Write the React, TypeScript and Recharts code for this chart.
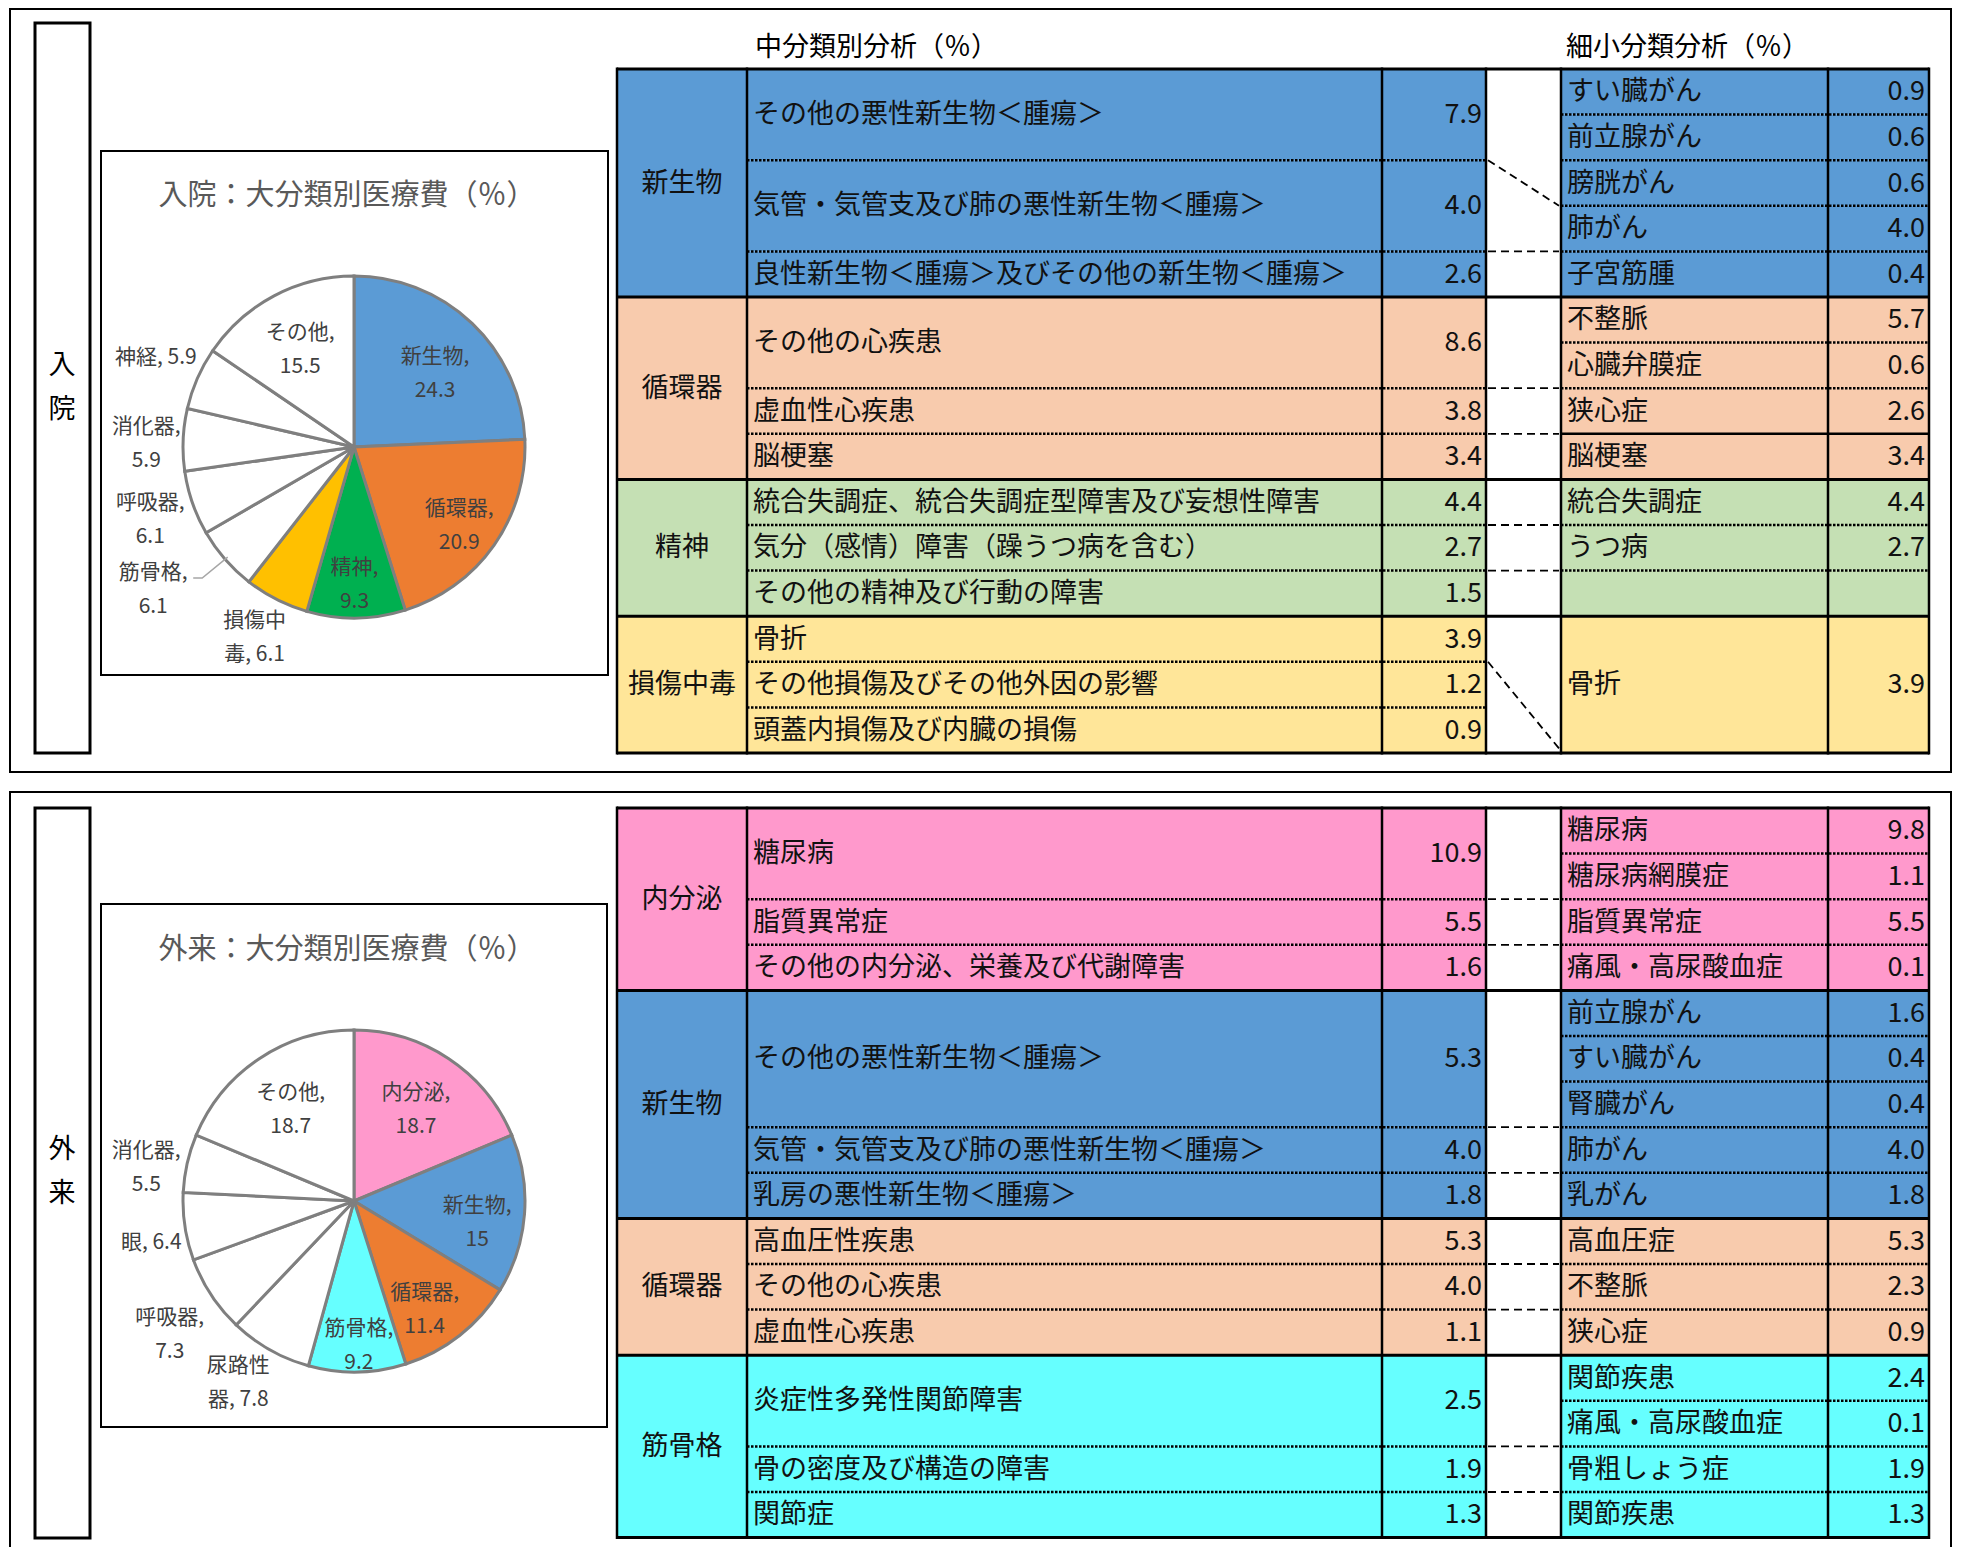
import { PieChart, Pie, Cell } from 'recharts';

const FONT = "'Noto Sans CJK JP', 'Noto Sans', sans-serif";

// 入院：大分類別医療費（%）
const inpatientCategories = ['新生物', '循環器', '精神', '損傷中毒', '筋骨格', '呼吸器', '消化器', '神経', 'その他'];
const inpatientShares = [24.3, 20.9, 9.3, 6.1, 6.1, 6.1, 5.9, 5.9, 15.5];

// 外来：大分類別医療費（%）
const outpatientCategories = ['内分泌', '新生物', '循環器', '筋骨格', '尿路性器', '呼吸器', '眼', '消化器', 'その他'];
const outpatientShares = [18.7, 15, 11.4, 9.2, 7.8, 7.3, 6.4, 5.5, 18.7];

// 入院 tables
const inGroups = ['新生物', '循環器', '精神', '損傷中毒'];
const inMidNames = [
  'その他の悪性新生物＜腫瘍＞',
  '気管・気管支及び肺の悪性新生物＜腫瘍＞',
  '良性新生物＜腫瘍＞及びその他の新生物＜腫瘍＞',
  'その他の心疾患',
  '虚血性心疾患',
  '脳梗塞',
  '統合失調症、統合失調症型障害及び妄想性障害',
  '気分（感情）障害（躁うつ病を含む）',
  'その他の精神及び行動の障害',
  '骨折',
  'その他損傷及びその他外因の影響',
  '頭蓋内損傷及び内臓の損傷',
];
const inMidValues = [7.9, 4.0, 2.6, 8.6, 3.8, 3.4, 4.4, 2.7, 1.5, 3.9, 1.2, 0.9];
const inSubNames = ['すい臓がん', '前立腺がん', '膀胱がん', '肺がん', '子宮筋腫', '不整脈', '心臓弁膜症', '狭心症', '脳梗塞', '統合失調症', 'うつ病', '', '骨折'];
const inSubValues = [0.9, 0.6, 0.6, 4.0, 0.4, 5.7, 0.6, 2.6, 3.4, 4.4, 2.7, null, 3.9];

// 外来 tables
const outGroups = ['内分泌', '新生物', '循環器', '筋骨格'];
const outMidNames = [
  '糖尿病',
  '脂質異常症',
  'その他の内分泌、栄養及び代謝障害',
  'その他の悪性新生物＜腫瘍＞',
  '気管・気管支及び肺の悪性新生物＜腫瘍＞',
  '乳房の悪性新生物＜腫瘍＞',
  '高血圧性疾患',
  'その他の心疾患',
  '虚血性心疾患',
  '炎症性多発性関節障害',
  '骨の密度及び構造の障害',
  '関節症',
];
const outMidValues = [10.9, 5.5, 1.6, 5.3, 4.0, 1.8, 5.3, 4.0, 1.1, 2.5, 1.9, 1.3];
const outSubNames = [
  '糖尿病', '糖尿病網膜症', '脂質異常症', '痛風・高尿酸血症',
  '前立腺がん', 'すい臓がん', '腎臓がん', '肺がん', '乳がん',
  '高血圧症', '不整脈', '狭心症',
  '関節疾患', '痛風・高尿酸血症', '骨粗しょう症', '関節疾患',
];
const outSubValues = [9.8, 1.1, 5.5, 0.1, 1.6, 0.4, 0.4, 4.0, 1.8, 5.3, 2.3, 0.9, 2.4, 0.1, 1.9, 1.3];

// row layout (in table row units)
const inGroupRows = [5, 4, 3, 3];
const inMidRows = [2, 2, 1, 2, 1, 1, 1, 1, 1, 1, 1, 1];
const inSubRows = [1, 1, 1, 1, 1, 1, 1, 1, 1, 1, 1, 1, 3];
const inLinks = [4, 7, 8, 10, 11];
const inSlants: [number, number][] = [[2, 3], [13, 14.9]];
const inSubSolid = [8];

const outGroupRows = [4, 5, 3, 4];
const outMidRows = [2, 1, 1, 3, 1, 1, 1, 1, 1, 2, 1, 1];
const outSubRows = outSubNames.map(() => 1);
const outLinks = [2, 3, 7, 8, 10, 11, 14, 15];

const GROUP_COLORS: Record<string, string> = {
  新生物: '#5B9BD5',
  循環器: '#F8CBAD',
  精神: '#C5E0B4',
  損傷中毒: '#FFE699',
  内分泌: '#FF99CC',
  筋骨格: '#66FFFF',
};
const inSliceColors = ['#5B9BD5', '#ED7D31', '#00B050', '#FFC000', '#FFFFFF', '#FFFFFF', '#FFFFFF', '#FFFFFF', '#FFFFFF'];
const outSliceColors = ['#FF99CC', '#5B9BD5', '#ED7D31', '#66FFFF', '#FFFFFF', '#FFFFFF', '#FFFFFF', '#FFFFFF', '#FFFFFF'];

// label placement: distance (fraction of radius) and clockwise shift (deg) from slice middle
const inLabelRadius = [0.646, 0.764, 0.798, 1.247, 1.435, 1.261, 1.215, 1.275, 0.657];
const inLabelShift = [3.5, 1.4, 0.5, 0.8, 6, 0, -1, 1, -0.7];
const outLabelRadius = [0.654, 0.73, 0.751, 0.838, 1.251, 1.325, 1.208, 1.232, 0.658];
const outLabelShift = [0, 5, 4.8, -0.9, 3.2, -2.3, -2.4, -3.2, -0.6];
const SINGLE_LINE = ['神経', '眼'];

const ROW_H = 45.6;
const C = { g: 617, n: 747, v: 1382, gap: 1486, s: 1561, sv: 1828, r: 1929 };
const RAD = Math.PI / 180;
const TEXT_DY = -3;

function cumulative(arr: number[]) {
  const out = [0];
  arr.forEach((v) => out.push(out[out.length - 1] + v));
  return out;
}

function labelLines(name: string, value: number) {
  if (SINGLE_LINE.includes(name)) return [`${name}, ${value}`];
  if (name.length >= 4) return [name.slice(0, 3), `${name.slice(3)}, ${value}`];
  return [`${name},`, `${value}`];
}

function makeLabel(radii: number[], shifts: number[], leaderIdx: number) {
  return (p: any) => {
    const { cx, cy, midAngle, outerRadius, index, name, value } = p;
    const r = outerRadius * radii[index];
    const a = midAngle - shifts[index];
    const x = cx + r * Math.cos(-a * RAD);
    const y = cy + r * Math.sin(-a * RAD);
    const lines = labelLines(name, value);
    const gap = 34;
    const y0 = y - ((lines.length - 1) * gap) / 2;
    let leader = null;
    if (index === leaderIdx) {
      const ex = cx + outerRadius * 0.98 * Math.cos(-midAngle * RAD);
      const ey = cy + outerRadius * 0.98 * Math.sin(-midAngle * RAD);
      leader = (
        <polyline
          points={`${x + 40},${y - 10} ${x + 49},${y - 10} ${ex},${ey}`}
          fill="none"
          stroke="#A6A6A6"
          strokeWidth={1.5}
        />
      );
    }
    return (
      <g key={`lbl-${index}`}>
        {leader}
        {lines.map((l, i) => (
          <text
            key={i}
            x={x}
            y={y0 + i * gap - 1}
            textAnchor="middle"
            dominantBaseline="central"
            fill="#404040"
            fontSize={21}
            fontFamily={FONT}
          >
            {l}
          </text>
        ))}
      </g>
    );
  };
}

interface TableProps {
  top: number;
  groups: string[];
  groupRows: number[];
  midNames: string[];
  midValues: number[];
  midRows: number[];
  subNames: string[];
  subValues: (number | null)[];
  subRows: number[];
  links: number[];
  slants: [number, number][];
  subSolid: number[];
}

function TableBlock(props: TableProps) {
  const { top, groups, groupRows, midNames, midValues, midRows, subNames, subValues, subRows, links, slants, subSolid } = props;
  const y = (u: number) => top + u * ROW_H;
  const gCum = cumulative(groupRows);
  const mCum = cumulative(midRows);
  const sCum = cumulative(subRows);
  const total = gCum[gCum.length - 1];
  const colorAt = (u: number) => {
    const i = groups.findIndex((_, k) => u >= gCum[k] && u < gCum[k + 1]);
    return GROUP_COLORS[groups[i]];
  };
  const isEdge = (u: number) => gCum.includes(u);
  const txt = { fontSize: 27, fill: '#111', dominantBaseline: 'central' as const, fontFamily: FONT };
  const dotted = { stroke: '#000', strokeWidth: 2.5, strokeDasharray: '2.5 1.5' };
  const mid = (a: number, b: number) => (y(a) + y(b)) / 2 + TEXT_DY;

  return (
    <g>
      {groups.map((g, i) => (
        <rect key={`gf${i}`} x={C.g} y={y(gCum[i])} width={C.n - C.g} height={groupRows[i] * ROW_H} fill={GROUP_COLORS[g]} />
      ))}
      {midNames.map((_, i) => (
        <rect key={`mf${i}`} x={C.n} y={y(mCum[i])} width={C.gap - C.n} height={midRows[i] * ROW_H} fill={colorAt(mCum[i])} />
      ))}
      {subNames.map((_, i) => (
        <rect key={`sf${i}`} x={C.s} y={y(sCum[i])} width={C.r - C.s} height={subRows[i] * ROW_H} fill={colorAt(sCum[i])} />
      ))}

      {mCum.slice(1, -1).filter((u) => !isEdge(u)).map((u) => (
        <line key={`md${u}`} x1={C.n} x2={C.gap} y1={y(u)} y2={y(u)} {...dotted} />
      ))}
      {sCum.slice(1, -1).filter((u) => !isEdge(u)).map((u) =>
        subSolid.includes(u) ? (
          <line key={`sd${u}`} x1={C.s} x2={C.r} y1={y(u)} y2={y(u)} stroke="#000" strokeWidth={2.5} />
        ) : (
          <line key={`sd${u}`} x1={C.s} x2={C.r} y1={y(u)} y2={y(u)} {...dotted} />
        )
      )}
      {gCum.map((u) => (
        <line key={`ge${u}`} x1={C.g} x2={C.r} y1={y(u)} y2={y(u)} stroke="#000" strokeWidth={3} />
      ))}
      {[C.g, C.n, C.v, C.gap, C.s, C.sv, C.r].map((x) => (
        <line key={`v${x}`} x1={x} x2={x} y1={y(0) - 1.5} y2={y(total) + 1.5} stroke="#000" strokeWidth={2.5} />
      ))}
      {links.map((u) => (
        <line key={`lk${u}`} x1={C.gap + 2} x2={C.s - 2} y1={y(u)} y2={y(u)} stroke="#000" strokeWidth={1.8} strokeDasharray="8 5" />
      ))}
      {slants.map(([a, b], i) => (
        <line key={`sl${i}`} x1={C.gap + 2} x2={C.s - 2} y1={y(a)} y2={y(b)} stroke="#000" strokeWidth={1.8} strokeDasharray="8 5" />
      ))}

      {groups.map((g, i) => (
        <text key={`gt${i}`} x={(C.g + C.n) / 2} y={mid(gCum[i], gCum[i + 1])} textAnchor="middle" {...txt}>
          {g}
        </text>
      ))}
      {midNames.map((n, i) => {
        const cy = mid(mCum[i], mCum[i + 1]);
        return (
          <g key={`mt${i}`}>
            <text x={C.n + 6} y={cy} textAnchor="start" {...txt}>{n}</text>
            <text x={C.gap - 4} y={cy} textAnchor="end" {...txt}>{midValues[i].toFixed(1)}</text>
          </g>
        );
      })}
      {subNames.map((n, i) => {
        const cy = mid(sCum[i], sCum[i + 1]);
        const v = subValues[i];
        return (
          <g key={`st${i}`}>
            <text x={C.s + 6} y={cy} textAnchor="start" {...txt}>{n}</text>
            {v !== null && (
              <text x={C.r - 4} y={cy} textAnchor="end" {...txt}>{v.toFixed(1)}</text>
            )}
          </g>
        );
      })}
    </g>
  );
}

function SharePie({ categories, shares, colors, radii, shifts, leaderIdx, cy }: any) {
  const data = categories.map((c: string, i: number) => ({ name: c, value: shares[i] }));
  return (
    <PieChart width={507} height={524} margin={{ top: 0, right: 0, bottom: 0, left: 0 }}>
      <Pie
        data={data}
        dataKey="value"
        nameKey="name"
        cx={253}
        cy={cy}
        outerRadius={171}
        startAngle={90}
        endAngle={-270}
        stroke="#7F7F7F"
        strokeWidth={3}
        isAnimationActive={false}
        labelLine={false}
        label={makeLabel(radii, shifts, leaderIdx)}
      >
        {data.map((_: any, i: number) => (
          <Cell key={`c${i}`} fill={colors[i]} stroke="#7F7F7F" strokeWidth={3} />
        ))}
      </Pie>
    </PieChart>
  );
}

export default function App() {
  return (
    <div style={{ position: 'absolute', left: 0, top: 0, width: 1961, height: 1547, overflow: 'hidden', background: '#fff', fontFamily: FONT }}>
      <svg width={1961} height={1547} style={{ position: 'absolute', left: 0, top: 0 }} fontFamily={FONT}>
        {/* panel frames */}
        <rect x={10} y={9} width={1941} height={763} fill="none" stroke="#000" strokeWidth={2} />
        <rect x={10} y={792} width={1941} height={780} fill="none" stroke="#000" strokeWidth={2} />
        <rect x={35} y={23} width={55} height={730} fill="none" stroke="#000" strokeWidth={3} />
        <rect x={35} y={808} width={55} height={730} fill="none" stroke="#000" strokeWidth={3} />
        <text x={62} y={362} textAnchor="middle" dominantBaseline="central" fontSize={27}>入</text>
        <text x={62} y={406} textAnchor="middle" dominantBaseline="central" fontSize={27}>院</text>
        <text x={62} y={1146} textAnchor="middle" dominantBaseline="central" fontSize={27}>外</text>
        <text x={62} y={1190} textAnchor="middle" dominantBaseline="central" fontSize={27}>来</text>

        {/* pie chart boxes */}
        <rect x={101} y={151} width={507} height={524} fill="none" stroke="#000" strokeWidth={2} />
        <rect x={101} y={904} width={506} height={523} fill="none" stroke="#000" strokeWidth={2} />
        <text x={347} y={192} textAnchor="middle" dominantBaseline="central" fontSize={29} fill="#595959">入院：大分類別医療費（％）</text>
        <text x={347} y={946} textAnchor="middle" dominantBaseline="central" fontSize={29} fill="#595959">外来：大分類別医療費（％）</text>

        {/* table headers */}
        <text x={755} y={44} dominantBaseline="central" fontSize={27}>中分類別分析（％）</text>
        <text x={1566} y={44} dominantBaseline="central" fontSize={27}>細小分類分析（％）</text>

        <TableBlock
          top={69}
          groups={inGroups}
          groupRows={inGroupRows}
          midNames={inMidNames}
          midValues={inMidValues}
          midRows={inMidRows}
          subNames={inSubNames}
          subValues={inSubValues}
          subRows={inSubRows}
          links={inLinks}
          slants={inSlants}
          subSolid={inSubSolid}
        />
        <TableBlock
          top={808}
          groups={outGroups}
          groupRows={outGroupRows}
          midNames={outMidNames}
          midValues={outMidValues}
          midRows={outMidRows}
          subNames={outSubNames}
          subValues={outSubValues}
          subRows={outSubRows}
          links={outLinks}
          slants={[]}
          subSolid={[]}
        />
      </svg>

      <div style={{ position: 'absolute', left: 101, top: 151 }}>
        <SharePie categories={inpatientCategories} shares={inpatientShares} colors={inSliceColors} radii={inLabelRadius} shifts={inLabelShift} leaderIdx={4} cy={296} />
      </div>
      <div style={{ position: 'absolute', left: 101, top: 904 }}>
        <SharePie categories={outpatientCategories} shares={outpatientShares} colors={outSliceColors} radii={outLabelRadius} shifts={outLabelShift} leaderIdx={-1} cy={297} />
      </div>
    </div>
  );
}
